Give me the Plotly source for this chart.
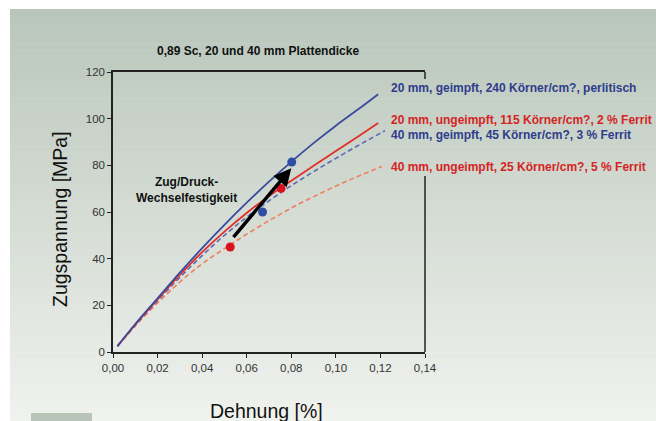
import plotly.graph_objects as go

# ---------------- data ----------------
strain_20g = [0.002, 0.01, 0.02, 0.03, 0.04, 0.05, 0.06, 0.07, 0.08, 0.09, 0.10, 0.11, 0.119]
stress_20g = [2.5, 12, 23, 34, 44.5, 54.5, 64, 73, 81.5, 89.5, 97, 104, 110.5]

strain_20u = [0.002, 0.01, 0.02, 0.03, 0.04, 0.05, 0.06, 0.07, 0.08, 0.09, 0.10, 0.11, 0.119]
stress_20u = [2.5, 11.7, 22.5, 33, 42.8, 51.6, 59.6, 66.8, 73.4, 79.8, 86.1, 92.4, 98.1]

strain_40g = [0.002, 0.01, 0.02, 0.03, 0.04, 0.05, 0.06, 0.07, 0.08, 0.09, 0.10, 0.11, 0.122]
stress_40g = [2.5, 11.5, 22, 32, 41.3, 50, 57.8, 64.8, 71.3, 77.3, 83, 88.5, 94.8]

strain_40u = [0.002, 0.01, 0.02, 0.03, 0.04, 0.05, 0.06, 0.07, 0.08, 0.09, 0.10, 0.11, 0.1206]
stress_40u = [2.5, 11.2, 21, 30, 37.8, 44.3, 50.5, 56.3, 61.7, 66.6, 71.1, 75.3, 79.5]

# fatigue-strength points (Zug/Druck-Wechselfestigkeit)
fat_blue_x = [0.0671, 0.0802]
fat_blue_y = [60.0, 81.4]
fat_red_x = [0.0526, 0.0754]
fat_red_y = [45.0, 70.1]

arrow_tail = (0.0535, 48.6)
arrow_tip = (0.0800, 78.8)

labels = [
    "20 mm, geimpft, 240 Körner/cm?, perlitisch",
    "20 mm, ungeimpft, 115 Körner/cm?, 2 % Ferrit",
    "40 mm, geimpft, 45 Körner/cm?, 3 % Ferrit",
    "40 mm, ungeimpft, 25 Körner/cm?, 5 % Ferrit",
]
x_ticks = [0.00, 0.02, 0.04, 0.06, 0.08, 0.10, 0.12, 0.14]
y_ticks = [0, 20, 40, 60, 80, 100, 120]

title_text = "0,89 Sc, 20 und 40 mm Plattendicke"
x_title = "Dehnung [%]"
y_title = "Zugspannung [MPa]"
note_text = "Zug/Druck-<br>Wechselfestigkeit"

# ---------------- layout helpers ----------------
W, H = 656, 421
L, R, T, B = 113, 425, 72, 352  # plot area pixel box


def px(xp):
    return (xp - L) / (R - L)


def py(yp):
    return (B - yp) / (B - T)


BLUE = "#3a4b9c"
RED = "#e0302a"
BLUE_D = "#5a6ab4"
ORANGE_D = "#ef7f5c"
TXT_BLUE = "#2e3d8c"
TXT_RED = "#d42424"
FONT = "Liberation Sans, Arial, sans-serif"

fig = go.Figure()

fig.add_trace(go.Scatter(x=strain_40u, y=stress_40u, mode="lines", line=dict(color=ORANGE_D, width=1.6, dash="5px,3px", shape="spline")))
fig.add_trace(go.Scatter(x=strain_40g, y=stress_40g, mode="lines", line=dict(color=BLUE_D, width=1.6, dash="5px,3px", shape="spline")))
fig.add_trace(go.Scatter(x=strain_20u, y=stress_20u, mode="lines", line=dict(color=RED, width=1.8, shape="spline")))
fig.add_trace(go.Scatter(x=strain_20g, y=stress_20g, mode="lines", line=dict(color=BLUE, width=1.8, shape="spline")))
fig.add_trace(go.Scatter(x=fat_blue_x, y=fat_blue_y, mode="markers", marker=dict(color="#2f4da2", size=9)))
fig.add_trace(go.Scatter(x=fat_red_x, y=fat_red_y, mode="markers", marker=dict(color="#d8121c", size=9)))

shapes = []
# background gradient
N = 60
y_top, y_bot = 9, 421
c0 = (185, 198, 186)
c1 = (240, 242, 238)
for i in range(N):
    ya = y_top + (y_bot - y_top) * i / N
    yb = y_top + (y_bot - y_top) * (i + 1) / N + 0.5
    t = (i + 0.5) / N
    c = tuple(round(c0[k] + (c1[k] - c0[k]) * t) for k in range(3))
    shapes.append(dict(type="rect", xref="paper", yref="paper", x0=px(10), x1=px(W + 2),
                       y0=py(yb), y1=py(ya), fillcolor="rgb(%d,%d,%d)" % c, line=dict(width=0), layer="below"))
# bottom-left tab
shapes.append(dict(type="rect", xref="paper", yref="paper", x0=px(31), x1=px(92), y0=py(423), y1=py(413),
                   fillcolor="#b8c4b8", line=dict(width=0), layer="below"))
# right frame (broken by the labels)
shapes.append(dict(type="line", xref="paper", yref="paper", x0=1, x1=1, y0=1, y1=py(79), line=dict(color="#222", width=1.5)))
shapes.append(dict(type="line", xref="paper", yref="paper", x0=1, x1=1, y0=py(176), y1=0, line=dict(color="#222", width=1.5)))

annotations = [
    dict(x=arrow_tip[0], y=arrow_tip[1], ax=arrow_tail[0], ay=arrow_tail[1], xref="x", yref="y", axref="x", ayref="y",
         showarrow=True, arrowhead=2, arrowsize=1.0, arrowwidth=3.5, arrowcolor="black", text=""),
    dict(x=px(258), y=py(51), xref="paper", yref="paper", text="<b>" + title_text + "</b>", showarrow=False,
         font=dict(family=FONT, size=12, color="#111"), xanchor="center", yanchor="middle"),
    dict(x=px(186), y=py(190), xref="paper", yref="paper", text="<b>" + note_text + "</b>", showarrow=False,
         font=dict(family=FONT, size=12, color="#111"), xanchor="center", yanchor="middle"),
    dict(x=px(60), y=py(219), xref="paper", yref="paper", text=y_title, textangle=-90, showarrow=False,
         font=dict(family=FONT, size=19.5, color="#111"), xanchor="center", yanchor="middle"),
    dict(x=px(266), y=py(411), xref="paper", yref="paper", text=x_title, showarrow=False,
         font=dict(family=FONT, size=19.5, color="#111"), xanchor="center", yanchor="middle"),
]
label_y = [88, 120, 135, 167]
label_c = [TXT_BLUE, TXT_RED, TXT_BLUE, TXT_RED]
for txt, yy, cc in zip(labels, label_y, label_c):
    annotations.append(dict(x=px(389), y=py(yy), xref="paper", yref="paper", text="<b>" + txt + "</b>", showarrow=False,
                            font=dict(family=FONT, size=12, color=cc), xanchor="left", yanchor="middle"))

fig.update_layout(
    width=W, height=H, autosize=False,
    margin=dict(l=L, r=W - R, t=T, b=H - B, pad=0),
    paper_bgcolor="white", plot_bgcolor="rgba(0,0,0,0)",
    showlegend=False, separators=",.",
    shapes=shapes, annotations=annotations,
    font=dict(family=FONT, color="#333"),
)
fig.update_xaxes(range=[0, 0.14], tickvals=x_ticks, tickformat=".2f", showgrid=False, zeroline=False,
                 showline=True, linecolor="#222", linewidth=1.5, mirror=True, ticks="outside", ticklen=4,
                 tickcolor="#222", tickfont=dict(size=11.5, color="#333"))
fig.update_yaxes(range=[0, 120], tickvals=y_ticks, showgrid=False, zeroline=False,
                 showline=True, linecolor="#222", linewidth=1.5, mirror=False, ticks="outside", ticklen=4,
                 tickcolor="#222", tickfont=dict(size=11.5, color="#333"))

fig.write_html("out.html", post_script="document.body.style.margin='0';",
               config={"displayModeBar": False})
